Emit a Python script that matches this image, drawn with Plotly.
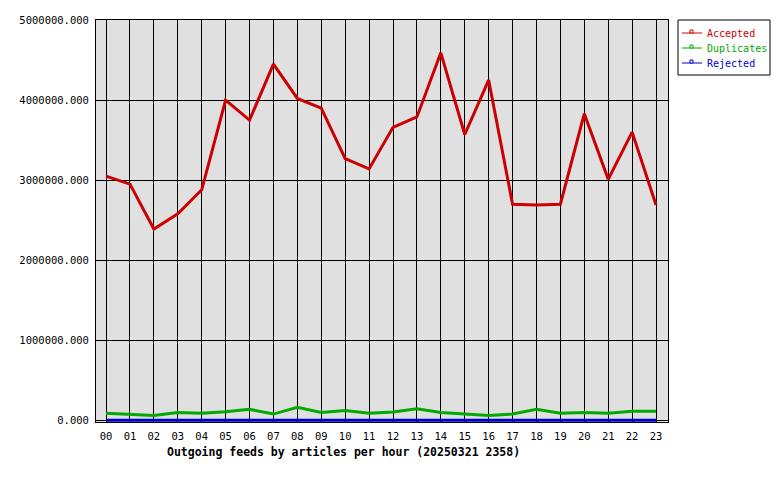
import plotly.graph_objects as go

hours = ["%02d" % h for h in range(24)]

accepted = [3050000, 2950000, 2390000, 2580000, 2880000, 4000000, 3750000, 4450000,
            4020000, 3900000, 3270000, 3140000, 3660000, 3790000, 4590000, 3570000,
            4250000, 2700000, 2690000, 2700000, 3830000, 3010000, 3600000, 2690000]
duplicates = [88000, 75000, 62000, 100000, 88000, 108000, 138000, 79000,
              163000, 100000, 125000, 88000, 104000, 145000, 100000, 79000,
              62000, 79000, 138000, 88000, 100000, 88000, 113000, 113000]
rejected = [2000] * 24

y_ticks = [0, 1000000, 2000000, 3000000, 4000000, 5000000]
y_labels = ["%.3f" % v for v in y_ticks]

names = ["Accepted", "Duplicates", "Rejected"]
colors = ["#cc0000", "#00aa00", "#0000cc"]

mono = "DejaVu Sans Mono"

# page sits 8px in from the window corner (body margin)
OFF = 8
W, H = 780 - OFF, 480 - OFF
# plot area in window pixels
L, R, T, B = 96, 668, 20, 422


def px(x):
    return (x - L) / (R - L)


def py(y):
    return (B - y) / (B - T)


fig = go.Figure()
for name, vals, col in zip(names, [accepted, duplicates, rejected], colors):
    fig.add_trace(go.Scatter(x=hours, y=vals, mode="lines", name=name,
                             line=dict(color=col, width=3), showlegend=False))

# hand-drawn legend box (tighter spacing than plotly's own legend)
shapes = [dict(type="rect", xref="paper", yref="paper",
               x0=px(678), x1=px(770), y0=py(20), y1=py(75),
               line=dict(color="black", width=1), fillcolor="white", layer="above")]
annotations = []
for i, (name, col) in enumerate(zip(names, colors)):
    yy = 33 + 15 * i
    shapes.append(dict(type="line", xref="paper", yref="paper",
                       x0=px(682), x1=px(702), y0=py(yy), y1=py(yy),
                       line=dict(color=col, width=1), layer="above"))
    shapes.append(dict(type="rect", xref="paper", yref="paper",
                       x0=px(690), x1=px(693), y0=py(yy), y1=py(yy - 3),
                       line=dict(color=col, width=1), fillcolor="white", layer="above"))
    annotations.append(dict(text=name, x=px(705), y=py(yy), xref="paper", yref="paper",
                            showarrow=False, xanchor="left", yanchor="middle",
                            font=dict(family=mono, size=10, color=col)))

annotations.append(dict(text="<b>Outgoing feeds by articles per hour (20250321 2358)</b>",
                        x=px(343), y=py(452), xref="paper", yref="paper",
                        showarrow=False, xanchor="center", yanchor="middle",
                        font=dict(family=mono, size=11.5, color="black")))

fig.update_layout(
    width=W, height=H,
    margin=dict(l=L - OFF, r=W - (R - OFF), t=T - OFF, b=H - (B - OFF), autoexpand=False),
    paper_bgcolor="white", plot_bgcolor="#e0e0e0",
    font=dict(family=mono, size=10, color="black"),
    showlegend=False,
    shapes=shapes,
    annotations=annotations,
)
fig.update_xaxes(type="category", range=[-0.42, 23.5],
                 showgrid=True, gridcolor="black", gridwidth=1,
                 showline=True, mirror=True, linecolor="black", linewidth=1,
                 ticks="outside", ticklen=4, tickcolor="rgba(0,0,0,0)",
                 tickfont=dict(family=mono, size=10.5))
fig.update_yaxes(range=[-20000, 5000000], tickvals=y_ticks, ticktext=y_labels,
                 showgrid=True, gridcolor="black", gridwidth=1, zeroline=False,
                 showline=True, mirror=True, linecolor="black", linewidth=1,
                 ticks="outside", ticklen=4, tickcolor="rgba(0,0,0,0)",
                 tickfont=dict(family=mono, size=10.5))

fig.write_html("out.html")
